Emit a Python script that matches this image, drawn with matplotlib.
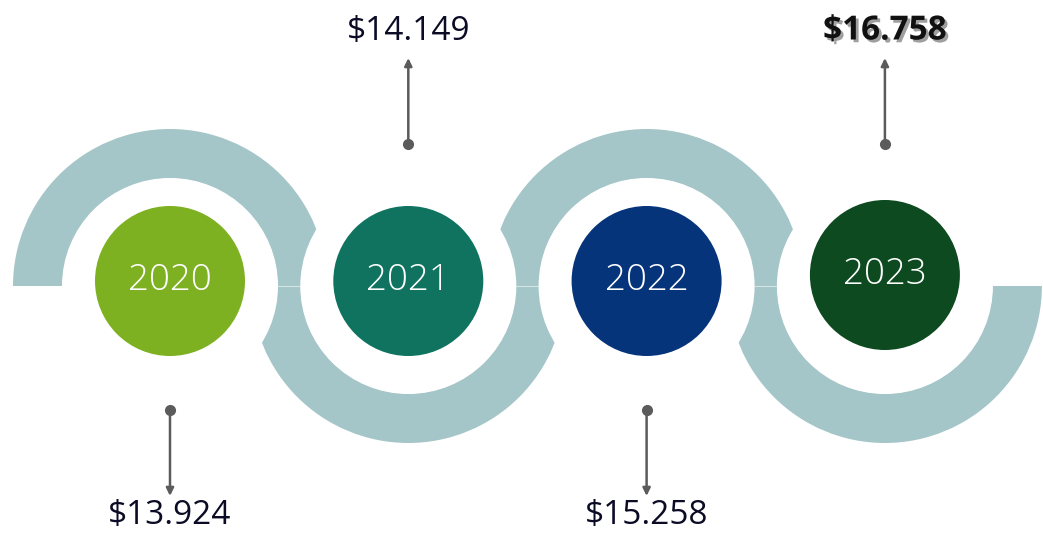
import matplotlib
matplotlib.use("Agg")
import matplotlib.pyplot as plt
from matplotlib.patches import Wedge, Circle
import matplotlib.patheffects as pe

# ---- data ----
years = ["2020", "2021", "2022", "2023"]
values = ["$13.924", "$14.149", "$15.258", "$16.758"]
colors = ["#7db121", "#0f735f", "#06347b", "#0d4a20"]
emphasis = [False, False, False, True]

# ---- layout ----
W, H = 1043, 533
x0, step = 170, 238.3
ring_y = 286
r_out, r_in = 157, 107.5
halo_r = 108
circ_r = 75
circ_dy = [-5, -5, -5, -11]
ring_color = "#a5c6c8"
arrow_color = "#5b5b5b"
text_color = "#0b0b26"

fig = plt.figure(figsize=(W / 100, H / 100), dpi=100)
ax = fig.add_axes([0, 0, 1, 1])
ax.set_xlim(0, W)
ax.set_ylim(H, 0)
ax.set_aspect("equal")
ax.axis("off")

xs = [x0 + i * step for i in range(len(years))]

# rings (alternate top / bottom); inverted y => 180..360 is on top of screen
for i, x in enumerate(xs):
    if i % 2 == 0:
        t1, t2 = 180, 360
    else:
        t1, t2 = 0, 180
    ax.add_patch(Wedge((x, ring_y), r_out, t1, t2, width=r_out - r_in,
                       facecolor=ring_color, edgecolor="none", zorder=1))

# seams between ring pieces
for i in range(len(xs) - 1):
    ax.plot([xs[i] + halo_r, xs[i + 1] - halo_r], [ring_y, ring_y],
            color="#d2e3e4", lw=0.8, zorder=1.5)

# white halos
for x in xs:
    ax.add_patch(Circle((x, ring_y), halo_r, facecolor="white",
                        edgecolor="none", zorder=2))

# colored circles with year text
for i, x in enumerate(xs):
    cy = ring_y + circ_dy[i]
    ax.add_patch(Circle((x, cy), circ_r, facecolor=colors[i],
                        edgecolor="none", zorder=3))
    ax.text(x, cy - 1, years[i], ha="center", va="center", color="white",
            fontsize=26.5, family="Open Sans", fontweight="light", zorder=4)

# arrows + value labels
for i, x in enumerate(xs):
    if i % 2 == 0:  # label below
        y_dot, y_tip, y_txt = 410, 496, 516
    else:
        y_dot, y_tip, y_txt = 144, 58, 31
    ax.annotate("", xy=(x, y_tip), xytext=(x, y_dot),
                arrowprops=dict(arrowstyle="-|>,head_length=0.45,head_width=0.22",
                                color=arrow_color, lw=1.8, shrinkA=0, shrinkB=0),
                zorder=5)
    ax.plot([x], [y_dot], "o", color=arrow_color, ms=7, zorder=6)
    if emphasis[i]:
        ax.text(x, y_txt, values[i], ha="center", va="center",
                color="#111111", fontsize=24, family="Open Sans",
                fontweight="bold", zorder=6,
                path_effects=[pe.SimplePatchShadow(offset=(2, -2),
                                                   shadow_rgbFace="#777777",
                                                   alpha=0.7),
                              pe.Normal()])
    else:
        ax.text(x, y_txt, values[i], ha="center", va="center",
                color=text_color, fontsize=24, family="Open Sans", zorder=6)

fig.savefig("out.png", dpi=100)
